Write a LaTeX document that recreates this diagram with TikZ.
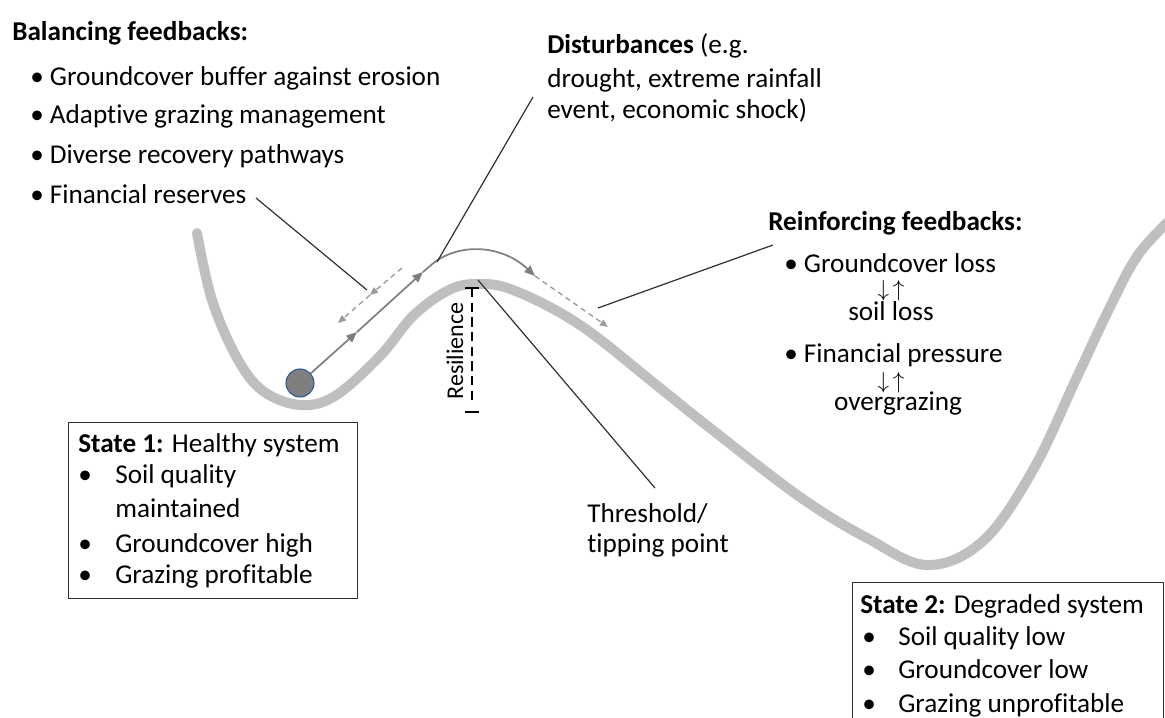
\documentclass[tikz,border=0pt]{standalone}
\usepackage{fontspec}
\setmainfont{Carlito}[Ligatures=NoCommon]
\usetikzlibrary{arrows.meta}
\definecolor{valleygray}{HTML}{BFBFBF}
\definecolor{pathgray}{HTML}{7F7F7F}
\definecolor{dashgray}{HTML}{9A9A9A}
\definecolor{leadgray}{HTML}{303030}
\definecolor{ballblue}{HTML}{2F5597}
\begin{document}
\begin{tikzpicture}[x=0.75pt,y=-0.75pt,
  txt/.style={anchor=base west,inner sep=0pt,font=\fontsize{20.4}{24}\selectfont},
  ctxt/.style={anchor=base,inner sep=0pt,font=\fontsize{20.4}{24}\selectfont},
  arr/.style={anchor=base,inner sep=0pt,font=\fontsize{17}{20}\selectfont},
  valley/.style={valleygray,line width=7.5pt,line cap=round},
  pathline/.style={pathgray,line width=1.3pt},
  tipa/.style={-{Triangle[length=8pt,width=6.5pt]}},
  dashline/.style={dashgray,line width=1pt,dash pattern=on 4pt off 3pt},
  tipb/.style={-{Triangle[length=6pt,width=5pt]}},
  leader/.style={leadgray,line width=0.9pt},
  statebox/.style={draw=leadgray,line width=1.1pt,fill=none},
  resil/.style={black,line width=2pt}]
\useasboundingbox (0,0) rectangle (1165,718);

% valley landscape
\draw[valley] plot[smooth,tension=0.6] coordinates {
 (197,233) (212,300) (237,358) (263,391) (300,405) (335,396) (380,356)
 (413,316) (447,291) (475,284) (513,290) (580,325) (660,388) (710,428)
 (800,497) (867,538) (927,565) (983,541) (1033,470) (1077,377)
 (1110,307) (1138,255) (1172,218)};

% ball
\node[circle,fill=pathgray,draw=ballblue,line width=0.8pt,minimum size=21pt,inner sep=0pt] (ball) at (300,383) {};

% trajectory
\coordinate (m1) at (357,332);
\coordinate (m2) at (423,272);
\coordinate (c1) at (430,266);
\coordinate (c2) at (535,276);
\coordinate (d2) at (608,327);
\draw[pathline,tipa] (ball) -- (m1);
\draw[pathline,tipa] (m1) -- (m2);
\draw[pathline] (m2) -- (c1);
\draw[pathline,tipa] (c1) .. controls (455,243) and (500,243) .. (c2);
\draw[dashline,tipb] (c2) -- (d2);

% recovery dashed arrow
\coordinate (r0) at (402,268);
\coordinate (r1) at (370,295);
\coordinate (r2) at (338,323);
\draw[dashline,tipb] (r0) -- (r1);
\draw[dashline,tipb] (r1) -- (r2);

% resilience bar
\coordinate (rtl) at (465,288);
\coordinate (rtr) at (479,288);
\coordinate (rt) at (472,288);
\coordinate (rbl) at (465,412);
\coordinate (rbr) at (479,412);
\coordinate (rbe) at (472,400);
\draw[resil] (rtl) -- (rtr);
\draw[resil] (rbl) -- (rbr);
\draw[resil,dash pattern=on 7pt off 4pt] (rt) -- (rbe);
\node[rotate=90,inner sep=0pt,font=\fontsize{18}{20}\selectfont] (restext) at (455,351) {Resilience};

% Balancing feedbacks
\node[txt] (bh) at (12,40) {\bfseries Balancing feedbacks:};
\node[txt] (b1) at (30,85) {• Groundcover buffer against erosion};
\node[txt] (b2) at (30,123) {• Adaptive grazing management};
\node[txt] (b3) at (30,163) {• Diverse recovery pathways};
\node[txt] (b4) at (30,203) {• Financial reserves};

% Disturbances
\node[txt] (dh) at (547,53) {\textbf{Disturbances} (e.g.};
\node[txt] (d1) at (547,87) {drought, extreme rainfall};
\node[txt] (d3) at (547,118) {event, economic shock)};

% Reinforcing
\node[txt] (rh) at (768,230) {\bfseries Reinforcing feedbacks:};
\node[txt] (r1t) at (784,272) {• Groundcover loss};
\node[arr] (ra1) at (891,296) {\smash{$\downarrow\,\uparrow$}};
\node[ctxt] (r2t) at (891,320) {soil loss};
\node[txt] (r3t) at (784,362) {• Financial pressure};
\node[arr] (ra2) at (891,388) {\smash{$\downarrow\,\uparrow$}};
\node[ctxt] (r4t) at (898,410) {overgrazing};

% Threshold
\node[txt] (th1) at (587,522) {Threshold/};
\node[txt] (th2) at (587,552) {tipping point};

% leader lines
\coordinate (lf0) at (256,198);
\coordinate (lf1) at (367,290);
\draw[leader] (lf0) -- (lf1);
\coordinate (ld0) at (533,97);
\coordinate (ld1) at (437,262);
\draw[leader] (ld0) -- (ld1);
\coordinate (lt0) at (478,280);
\coordinate (lt1) at (655,488);
\draw[leader] (lt0) -- (lt1);
\coordinate (lr0) at (598,308);
\coordinate (lr1) at (773,245);
\draw[leader] (lr0) -- (lr1);

% State 1 box
\node[statebox,anchor=north west,minimum width=216.75pt,minimum height=132pt,inner sep=0pt] (s1) at (68,422) {};
\node[txt] (s1h) at (78,452) {\textbf{State 1:} Healthy system};
\node[txt] (s1b1) at (78,483) {•};
\node[txt] (s1t1) at (115,483) {Soil quality};
\node[txt] (s1t1b) at (115,517) {maintained};
\node[txt] (s1b2) at (78,552) {•};
\node[txt] (s1t2) at (115,552) {Groundcover high};
\node[txt] (s1b3) at (78,583) {•};
\node[txt] (s1t3) at (115,583) {Grazing profitable};

% State 2 box
\node[statebox,anchor=north west,minimum width=233.25pt,minimum height=130pt,inner sep=0pt] (s2) at (852,582) {};
\node[txt] (s2h) at (860,613) {\textbf{State 2:} Degraded system};
\node[txt] (s2b1) at (862,645) {•};
\node[txt] (s2t1) at (898,645) {Soil quality low};
\node[txt] (s2b2) at (862,678) {•};
\node[txt] (s2t2) at (898,678) {Groundcover low};
\node[txt] (s2b3) at (862,712) {•};
\node[txt] (s2t3) at (898,712) {Grazing unprofitable};
\end{tikzpicture}
\end{document}
